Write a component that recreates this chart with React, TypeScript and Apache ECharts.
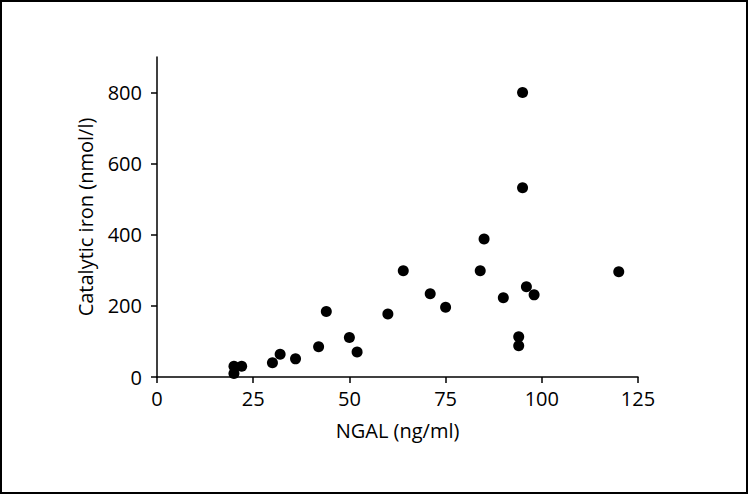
import React, { useEffect, useRef } from "react";
import * as echarts from "echarts";

const ngal: number[] = [20, 20, 22, 30, 32, 36, 42, 44, 50, 52, 60, 64, 71, 75, 84, 85, 90, 94, 94, 95, 95, 96, 98, 120];
const iron: number[] = [10, 30, 30, 40, 64, 51, 85, 184, 111, 70, 177, 299, 234, 196, 299, 388, 223, 113, 88, 800, 532, 254, 231, 296];
const xTicks: number[] = [0, 25, 50, 75, 100, 125];
const yTicks: number[] = [0, 200, 400, 600, 800];

const FONT = "Open Sans";
const FS = 20;

export default function App() {
  const ref = useRef<HTMLDivElement>(null);
  useEffect(() => {
    document.body.style.margin = "0";
    if (!ref.current) return;
    const chart = echarts.init(ref.current, null, { renderer: "svg" });
    const data = ngal.map((x, i) => [x, iron[i]]);
    chart.setOption({
      animation: false,
      backgroundColor: "#fff",
      grid: { left: 157, right: 111, top: 57, bottom: 118, containLabel: false },
      xAxis: {
        type: "value",
        min: 0,
        max: 125,
        interval: 25,
        name: "NGAL (ng/ml)",
        nameLocation: "middle",
        nameGap: 43,
        nameTextStyle: { color: "#000", fontSize: FS, fontFamily: FONT },
        splitLine: { show: false },
        axisLine: { lineStyle: { color: "#000", width: 1.5 } },
        axisTick: { show: true, length: 6, lineStyle: { color: "#000", width: 1.5 }, customValues: xTicks },
        axisLabel: { color: "#000", fontSize: FS, fontFamily: FONT, margin: 11, customValues: xTicks },
      },
      yAxis: {
        type: "value",
        min: 0,
        max: 900,
        name: "Catalytic iron (nmol/l)",
        nameLocation: "middle",
        nameGap: 62,
        nameTextStyle: { color: "#000", fontSize: FS, fontFamily: FONT },
        splitLine: { show: false },
        axisLine: { show: true, lineStyle: { color: "#000", width: 1.5 } },
        axisTick: { show: true, length: 6, lineStyle: { color: "#000", width: 1.5 }, customValues: yTicks },
        axisLabel: { color: "#000", fontSize: FS, fontFamily: FONT, margin: 15, customValues: yTicks },
      },
      graphic: [
        {
          type: "rect",
          shape: { x: 1, y: 1, width: 746, height: 492 },
          style: { fill: "none", stroke: "#000", lineWidth: 2 },
          silent: true,
        },
      ],
      series: [
        {
          type: "scatter",
          data,
          symbol: "circle",
          symbolSize: 11,
          itemStyle: { color: "#000", opacity: 1 },
        },
      ],
    });
    return () => chart.dispose();
  }, []);
  return <div ref={ref} style={{ width: 749, height: 495 }} />;
}
